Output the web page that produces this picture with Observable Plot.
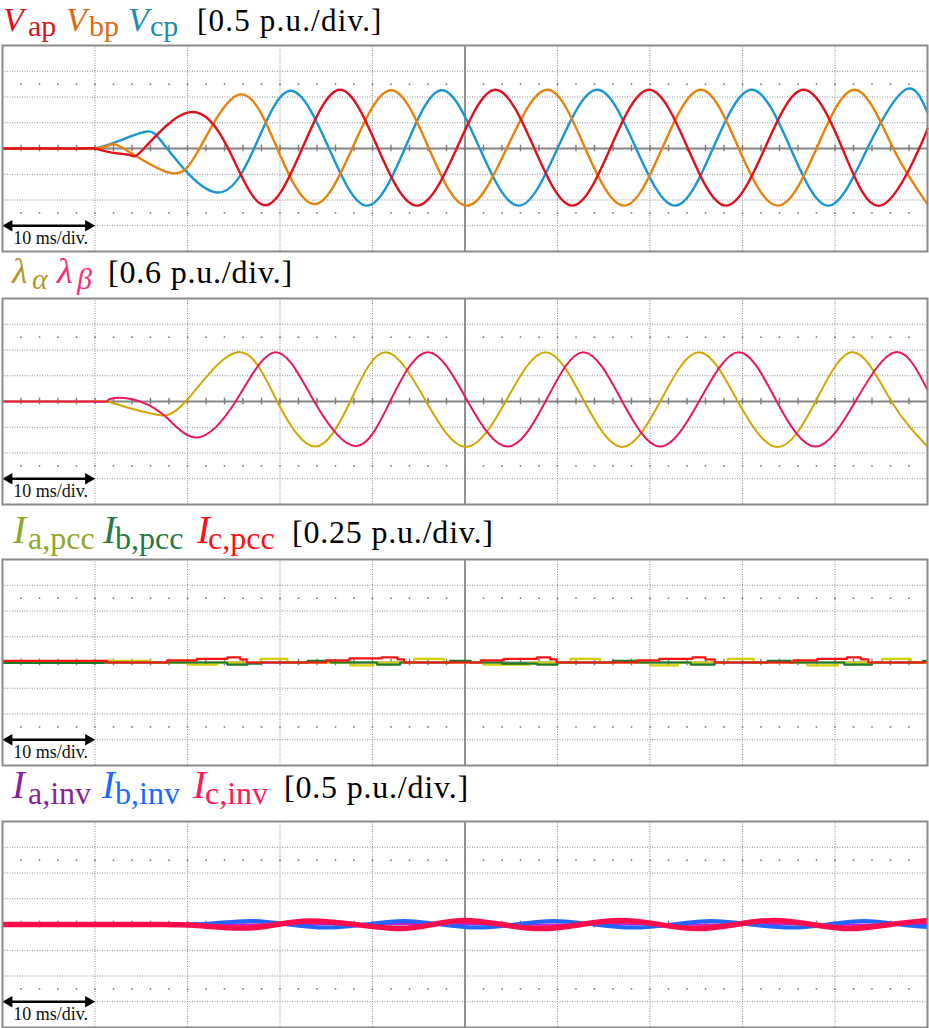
<!DOCTYPE html>
<html>
<head>
<meta charset="utf-8">
<script src="https://cdn.jsdelivr.net/npm/d3@7"></script>
<script src="https://cdn.jsdelivr.net/npm/@observablehq/plot@0.6"></script>
<style>
html,body{margin:0;padding:0;background:#fff;}
#root{position:relative;width:929px;height:1028px;overflow:hidden;background:#fff;}
.title{position:absolute;left:0;top:0;white-space:nowrap;font-family:"Liberation Serif","DejaVu Serif",serif;font-size:32px;line-height:26px;color:#000;}
.title .m{font-style:italic;font-size:39px;}
.title .m1{font-style:italic;font-size:34px;}
.title .g{font-style:italic;font-size:36px;}
.title .s{font-size:32px;position:relative;top:6px;}
.title .s1{font-size:30px;position:relative;top:5px;}
.title .sg{font-size:30px;font-style:italic;position:relative;top:6px;}
.title .u{font-size:32px;letter-spacing:0.8px;}
.title .u1{font-size:31px;letter-spacing:1.2px;}
.title .bl{display:inline-block;width:0;height:0;vertical-align:baseline;}
.plot{position:absolute;left:0;}
</style>
</head>
<body>
<div id="root"></div>
<script>
// ---------- axes / grid (time in ms, 10 ms per division; y in divisions) ----------
const timeDomain = [0, 100];
const xGrid = [10, 20, 30, 40, 60, 70, 80, 90];
const xCenter = [50];
const yGridDiv = [-3, -2, -1, 1, 2, 3];
const dotRowsDiv = [-2.5, 2.5];
const xMinorTicks = [2,4,6,8,10,12,14,16,18,20,22,24,26,28,30,32,34,36,38,40,42,44,46,48,50,
                     52,54,56,58,60,62,64,66,68,70,72,74,76,78,80,82,84,86,88,90,92,94,96,98];
const scaleBar = {t0: 0, t1: 10, yDiv: -3, labelDiv: -3.72, label: "10 ms/div."};

// ---------- scale factors (p.u. per division) ----------
const perDivV = 0.5, perDivLam = 0.6, perDivIpcc = 0.25, perDivIinv = 0.5;

// ---------- Panel 1: PCC voltages [t ms, p.u.] ----------
const Vap = [[0,0],[5,0],[8.5,0],[10,0],[11.8,-0.08],[13.8,-0.13],[15.3,0],[20.1,0.70],[24.4,0],[28.3,-1.10],
  [32.4,0],[36.5,1.14],[40.6,0],[44.8,-1.11],[49.1,0],[53.3,1.14],[57.5,0],[61.6,-1.11],[65.7,0],
  [69.9,1.14],[74.1,0],[78.2,-1.11],[82.4,0],[86.6,1.14],[90.8,0],[94.9,-1.11],[99.1,0],[100,0.40]];
const Vbp = [[0,0],[5,0],[8.5,0],[10,0],[11.5,0.06],[13.1,0],[18,-0.47],[21.3,0],[25.7,1.05],[29.7,0],
  [33.7,-1.08],[37.8,0],[42,1.13],[46.1,0],[50.2,-1.11],[54.5,0],[58.9,1.14],[63,0],[67.2,-1.11],
  [71.3,0],[75.5,1.14],[79.6,0],[83.8,-1.11],[88,0],[92.2,1.14],[96.3,0],[100,-1.08]];
const Vcp = [[0,0],[5,0],[8.5,0],[10,0],[12.6,0.15],[15.6,0.33],[17.8,0],[23,-0.85],[27.2,0],[31.1,1.12],[35.3,0],
  [39.4,-1.11],[43.5,0],[47.5,1.13],[51.6,0],[55.8,-1.11],[60,0],[64.3,1.14],[68.5,0],[72.7,-1.11],
  [76.8,0],[81,1.14],[85.2,0],[89.3,-1.11],[93.5,0],[97.6,1.14],[100,0.70]];

// ---------- Panel 2: lambda alpha / beta ----------
const lamA = [[0,0],[5,0],[9.5,0],[11.3,0],[14,-0.17],[16.7,-0.31],[19.8,0],[25.4,1.15],[29.7,0],[33.8,-1.05],
  [37.6,0],[41.4,1.15],[45.8,0],[50.1,-1.06],[54.4,0],[58.7,1.15],[62.9,0],[67,-1.06],[71.1,0],
  [75.3,1.15],[79.5,0],[83.8,-1.06],[87.9,0],[92,1.15],[96.1,0],[100,-1.05]];
const lamB = [[0,0],[5,0],[9.5,0],[11.3,0],[11.6,0.06],[13.9,0.06],[17.4,-0.31],[21,-0.84],[25.2,0],[29.5,1.15],
  [33.7,0],[38.2,-1.04],[41.9,0],[46,1.15],[50.3,0],[54.6,-1.05],[58.7,0],[62.8,1.15],[67,0],
  [71.1,-1.05],[75.3,0],[79.6,1.15],[83.7,0],[87.9,-1.05],[92.2,0],[96.5,1.15],[100,0.27]];

// ---------- Panel 3: PCC currents (step readings) ----------
const Iapcc = [[0,0.005],[10.6,0.015],[16,0],[20,-0.02],[23.2,0],[27.9,0.035],[30.8,0],[37.6,-0.027],
  [40.1,0],[44.5,0.035],[47.7,0],[52,-0.02],[57,0],[61.4,0.035],[64.6,0],[70,-0.027],[73,0],
  [78.4,0.035],[81.2,0],[87,-0.027],[90.3,0],[95.1,0.035],[98.2,0],[100,0]];
const Ibpcc = [[0,-0.005],[11,0],[24.3,-0.02],[26.5,-0.01],[28,0],[33,0.015],[35.5,0],[40.5,-0.02],
  [43,0],[48.4,0.015],[50.6,0],[54,-0.01],[57.8,-0.02],[60,0],[66,0.015],[68.6,0],[74.4,-0.02],
  [77,0],[82.7,0.015],[85.2,0],[91,-0.02],[94,0],[99.5,0.015],[100,0.015]];
const Icpcc = [[0,0.016],[11.3,0],[17.8,0.02],[21,0.035],[24.3,0.05],[25.7,0.03],[26.4,0],[35,0.02],
  [37.5,0.04],[41,0.05],[42.7,0.03],[43.4,0],[51.7,0.02],[54.2,0.035],[57.8,0.05],[59.2,0.03],
  [59.9,0],[68.6,0.02],[71,0.035],[74.6,0.05],[76,0.03],[77,0],[85.5,0.02],[88.1,0.035],
  [91.3,0.05],[92.8,0.03],[93.6,0],[100,0]];

// ---------- Panel 4: inverter currents ----------
const Iainv = [[0,0],[25,0],[50,0.01],[58,-0.005],[66,0.01],[75,-0.005],[83,0.01],[91,-0.005],[100,0.01]];
const Ibinv = [[0,0.01],[10,0],[18,0],[22.6,0.02],[26.8,0.07],[30.9,0],[35,-0.06],[39.2,0],[43.4,0.07],
  [47.4,0],[51.4,-0.06],[55.4,0],[59.6,0.07],[63.9,0],[68.2,-0.06],[72.4,0],[76.6,0.07],[80.9,0],
  [85.3,-0.06],[89.2,0],[93.2,0.07],[97,0],[100,-0.05]];
const Icinv = [[0,0],[10,0],[17,0],[21,-0.02],[26,-0.07],[29.7,0],[33.3,0.07],[38.1,0],[42.9,-0.08],
  [46.5,0],[50,0.08],[54,0],[58.3,-0.08],[62.5,0],[66.8,0.08],[71,0],[75.1,-0.08],[79.3,0],
  [83.4,0.08],[87.5,0],[91.7,-0.08],[95.9,0],[100,0.08]];

// ---------- titles ----------
const title1 = [["m1","V","#d7141e",3],["s1","ap","#d7141e",28],["m1","V","#df6a12",66],["s1","bp","#df6a12",89],
  ["m1","V","#1b8db0",128],["s1","cp","#1b8db0",150],["u1","[0.5 p.u./div.]","#000",197]];
const title2 = [["g","λ","#b0972c",12],["sg","α","#b0972c",32],["g","λ","#ff2a78",57],["sg","β","#ff2a78",77],
  ["u","[0.6 p.u./div.]","#000",108]];
const title3 = [["m","I","#8ea82a",13],["s","a,pcc","#8ea82a",28],["m","I","#2a7a45",103],["s","b,pcc","#2a7a45",115],
  ["m","I","#ff1010",197],["s","c,pcc","#ff1010",208],["u","[0.25 p.u./div.]","#000",292]];
const title4 = [["m","I","#8b1fa0",12],["s","a,inv","#8b1fa0",28],["m","I","#1a6aff",102],["s","b,inv","#1a6aff",115],
  ["m","I","#ff1a5a",193],["s","c,inv","#ff1a5a",205],["u","[0.5 p.u./div.]","#000",284]];

const panels = [
  {boxTop: 45, baseline: 31, title: title1, perDiv: perDivV, curve: "natural",
   lines: [[Vcp,"#1a96d2",2.4],[Vbp,"#e8820e",2.4],[Vap,"#e0101c",2.4]]},
  {boxTop: 298, baseline: 283, title: title2, perDiv: perDivLam, curve: "natural",
   lines: [[lamA,"#d2a600",2],[lamB,"#e8185a",2]]},
  {boxTop: 559, baseline: 543, title: title3, perDiv: perDivIpcc, curve: "step-after",
   lines: [[Iapcc,"#d6cf00",2.2],[Ibpcc,"#1c7a28",2.2],[Icpcc,"#ff1414",2.2]]},
  {boxTop: 821, baseline: 798, title: title4, perDiv: perDivIinv, curve: "natural",
   lines: [[Iainv,"#c21ad8",2],[Ibinv,"#2266ff",4],[Icinv,"#ff0d4d",5.5]]}
];

const root = document.getElementById("root");

function makePlot(p) {
  const Y = p.perDiv;
  const dots = [];
  for (const r of dotRowsDiv) for (const t of xMinorTicks) dots.push({t, v: r * Y});
  const grey = "#8a8a8a";
  const marks = [
    Plot.ruleX(xGrid, {x: d => d, stroke: grey, strokeWidth: 1, strokeDasharray: "1,1.5"}),
    Plot.ruleY(yGridDiv, {y: d => d * Y, stroke: grey, strokeWidth: 1, strokeDasharray: "1,1.5"}),
    Plot.dot(dots, {x: "t", y: "v", r: 0.9, fill: "#7a7a7a", stroke: "none"}),
    Plot.ruleX(xCenter, {x: d => d, stroke: "#858585", strokeWidth: 1.8}),
    Plot.ruleY([0], {y: d => d, stroke: "#858585", strokeWidth: 1.8}),
    Plot.ruleX(xMinorTicks, {x: d => d, y1: () => -0.13 * Y, y2: () => 0.13 * Y, stroke: "#7a7a7a", strokeWidth: 1.4}),
    ...p.lines.map(([data, color, w]) => Plot.line(data, {
      x: d => d[0], y: d => d[1], stroke: color, strokeWidth: w, curve: p.curve,
      strokeLinejoin: "round", strokeLinecap: "butt"})),
    Plot.ruleY([scaleBar], {y: d => d.yDiv * Y, x1: "t0", x2: "t1", insetLeft: 7, insetRight: 7,
      stroke: "#000", strokeWidth: 2.6}),
    Plot.dot([scaleBar], {x: "t0", y: d => d.yDiv * Y, symbol: "triangle", r: 4.3, rotate: -90, dx: 6.5,
      fill: "#000", stroke: "none"}),
    Plot.dot([scaleBar], {x: "t1", y: d => d.yDiv * Y, symbol: "triangle", r: 4.3, rotate: 90, dx: -6.5,
      fill: "#000", stroke: "none"}),
    Plot.text([scaleBar], {x: d => (d.t0 + d.t1) / 2 + 0.2, y: d => d.labelDiv * Y, text: "label",
      lineAnchor: "bottom", textAnchor: "middle", fontFamily: "Liberation Serif", fontSize: 18, fill: "#111"}),
    Plot.frame({stroke: "#8a8a8a", strokeWidth: 2})
  ];
  const svg = Plot.plot({
    width: 929, height: 208,
    marginTop: 1, marginBottom: 1, marginLeft: 2, marginRight: 2,
    x: {domain: timeDomain, axis: null},
    y: {domain: [-4 * Y, 4 * Y], axis: null},
    style: {background: "transparent", overflow: "visible"},
    marks
  });
  svg.classList.add("plot");
  svg.style.top = (p.boxTop - 1) + "px";
  root.appendChild(svg);
}

function makeTitle(p) {
  const div = document.createElement("div");
  div.className = "title";
  root.appendChild(div);
  const marker = document.createElement("span");
  marker.className = "bl";
  div.appendChild(marker);
  const spans = p.title.map(([cls, text, color, x]) => {
    const s = document.createElement("span");
    s.className = cls; s.textContent = text; s.style.color = color;
    div.appendChild(s);
    return [s, x];
  });
  const rr = root.getBoundingClientRect();
  for (const [s, x] of spans) {
    const cur = s.getBoundingClientRect().left - rr.left;
    const m = parseFloat(s.style.marginLeft || "0");
    s.style.marginLeft = (m + x - cur) + "px";
  }
  const mb = marker.getBoundingClientRect().top - rr.top;
  div.style.top = (p.baseline - mb) + "px";
}

for (const p of panels) { makePlot(p); makeTitle(p); }
</script>
</body>
</html>
